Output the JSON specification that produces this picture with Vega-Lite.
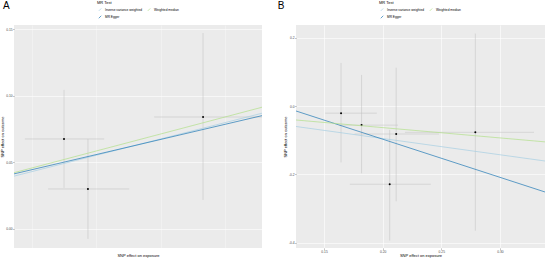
{
  "$schema": "https://vega.github.io/schema/vega-lite/v6.json",
  "background": "white",
  "padding": {"left": 0, "top": 1, "right": 0, "bottom": 0},
  "spacing": 15,
  "datasets": {
    "snpA": [
      {"bx": 1.0, "by": 0.0675, "x_lo": 0.848, "x_hi": 1.156, "y_lo": 0.0308, "y_hi": 0.1043},
      {"bx": 1.093, "by": 0.030, "x_lo": 0.938, "x_hi": 1.253, "y_lo": -0.0075, "y_hi": 0.0675},
      {"bx": 1.540, "by": 0.084, "x_lo": 1.350, "x_hi": 1.80, "y_lo": 0.0218, "y_hi": 0.147}
    ],
    "linesA": [
      {"method": "Inverse variance weighted", "x": 0.8057, "y": 0.0396},
      {"method": "Inverse variance weighted", "x": 1.769, "y": 0.0868},
      {"method": "MR Egger", "x": 0.8057, "y": 0.0413},
      {"method": "MR Egger", "x": 1.769, "y": 0.0850},
      {"method": "Weighted median", "x": 0.8057, "y": 0.0422},
      {"method": "Weighted median", "x": 1.769, "y": 0.0913}
    ],
    "snpB": [
      {"bx": 0.1645, "by": -0.021, "x_lo": 0.151, "x_hi": 0.195, "y_lo": -0.165, "y_hi": 0.126},
      {"bx": 0.182, "by": -0.056, "x_lo": 0.163, "x_hi": 0.213, "y_lo": -0.197, "y_hi": 0.091},
      {"bx": 0.2115, "by": -0.082, "x_lo": 0.176, "x_hi": 0.248, "y_lo": -0.279, "y_hi": 0.112},
      {"bx": 0.206, "by": -0.229, "x_lo": 0.172, "x_hi": 0.241, "y_lo": -0.394, "y_hi": -0.07},
      {"bx": 0.279, "by": -0.077, "x_lo": 0.219, "x_hi": 0.329, "y_lo": -0.365, "y_hi": 0.212}
    ],
    "linesB": [
      {"method": "Inverse variance weighted", "x": 0.1261, "y": -0.060},
      {"method": "Inverse variance weighted", "x": 0.3384, "y": -0.161},
      {"method": "MR Egger", "x": 0.1261, "y": -0.0146},
      {"method": "MR Egger", "x": 0.3384, "y": -0.2517},
      {"method": "Weighted median", "x": 0.1261, "y": -0.041},
      {"method": "Weighted median", "x": 0.3384, "y": -0.105}
    ]
  },
  "resolve": {
    "scale": {"x": "independent", "y": "independent", "color": "independent"},
    "legend": {"color": "independent"},
    "axis": {"x": "independent", "y": "independent"}
  },
  "hconcat": [
    {
      "width": 248,
      "height": 223,
      "title": {"text": "A", "anchor": "start", "frame": "bounds", "dx": 2, "dy": 14},
      "layer": [
        {
          "data": {"name": "snpA"},
          "mark": {"type": "rule", "clip": true, "color": "#BEBEBE", "strokeWidth": 0.5},
          "encoding": {
            "x": {"field": "x_lo", "type": "quantitative",
              "scale": {"domain": [0.8057, 1.769], "nice": false, "zero": false},
              "axis": {
                "title": "SNP effect on exposure",
                "values": [0.875, 1.0, 1.125, 1.25, 1.375, 1.5, 1.625, 1.75],
                "labelExpr": "(datum.value*4)%1 == 0 ? format(datum.value, '.2f') : ''",
                "tickOpacity": {"condition": {"test": "(datum.value*4)%1 != 0", "value": 0}, "value": 1},
                "gridWidth": {"condition": {"test": "(datum.value*4)%1 != 0", "value": 0.3}, "value": 0.6}
              }},
            "x2": {"field": "x_hi"},
            "y": {"field": "by", "type": "quantitative",
              "scale": {"domain": [-0.0143, 0.153], "nice": false, "zero": false},
              "axis": {
                "title": "SNP effect on outcome",
                "values": [0, 0.025, 0.05, 0.075, 0.1, 0.125, 0.15],
                "labelExpr": "abs(datum.value*20 - round(datum.value*20)) < 0.001 ? format(datum.value, '.2f') : ''",
                "tickOpacity": {"condition": {"test": "abs(datum.value*20 - round(datum.value*20)) > 0.001", "value": 0}, "value": 1},
                "gridWidth": {"condition": {"test": "abs(datum.value*20 - round(datum.value*20)) > 0.001", "value": 0.3}, "value": 0.6}
              }}
          }
        },
        {
          "data": {"name": "snpA"},
          "mark": {"type": "rule", "clip": true, "color": "#BEBEBE", "strokeWidth": 0.5},
          "encoding": {
            "x": {"field": "bx", "type": "quantitative"},
            "y": {"field": "y_lo", "type": "quantitative"},
            "y2": {"field": "y_hi"}
          }
        },
        {
          "data": {"name": "snpA"},
          "mark": {"type": "point", "filled": true, "color": "black", "size": 4, "opacity": 1},
          "encoding": {
            "x": {"field": "bx", "type": "quantitative"},
            "y": {"field": "by", "type": "quantitative"}
          }
        },
        {
          "data": {"name": "linesA"},
          "mark": {"type": "line", "clip": true, "strokeWidth": 0.7},
          "encoding": {
            "x": {"field": "x", "type": "quantitative"},
            "y": {"field": "y", "type": "quantitative"},
            "color": {"field": "method", "type": "nominal",
              "scale": {"domain": ["Inverse variance weighted", "MR Egger", "Weighted median"],
                        "range": ["#a6cee3", "#1f78b4", "#b2df8a"]},
              "legend": {"title": "MR Test", "orient": "none", "legendX": 83, "legendY": -24, "columns": 2,
                         "values": ["Inverse variance weighted", "MR Egger", "Weighted median"]}}
          }
        }
      ]
    },
    {
      "width": 249,
      "height": 223,
      "title": {"text": "B", "anchor": "start", "frame": "bounds", "dx": -6, "dy": 14},
      "layer": [
        {
          "data": {"name": "snpB"},
          "mark": {"type": "rule", "clip": true, "color": "#BEBEBE", "strokeWidth": 0.5},
          "encoding": {
            "x": {"field": "x_lo", "type": "quantitative",
              "scale": {"domain": [0.1261, 0.3384], "nice": false, "zero": false},
              "axis": {
                "title": "SNP effect on exposure",
                "values": [0.15, 0.175, 0.2, 0.225, 0.25, 0.275, 0.3, 0.325],
                "labelExpr": "abs(datum.value*20 - round(datum.value*20)) < 0.001 ? format(datum.value, '.2f') : ''",
                "tickOpacity": {"condition": {"test": "abs(datum.value*20 - round(datum.value*20)) > 0.001", "value": 0}, "value": 1},
                "gridWidth": {"condition": {"test": "abs(datum.value*20 - round(datum.value*20)) > 0.001", "value": 0.3}, "value": 0.6}
              }},
            "x2": {"field": "x_hi"},
            "y": {"field": "by", "type": "quantitative",
              "scale": {"domain": [-0.4156, 0.237], "nice": false, "zero": false},
              "axis": {
                "title": "SNP effect on outcome",
                "values": [-0.4, -0.3, -0.2, -0.1, 0, 0.1, 0.2],
                "labelExpr": "abs(datum.value*5 - round(datum.value*5)) < 0.001 ? replace(format(datum.value, '.1f'), '\u2212', '-') : ''",
                "tickOpacity": {"condition": {"test": "abs(datum.value*5 - round(datum.value*5)) > 0.001", "value": 0}, "value": 1},
                "gridWidth": {"condition": {"test": "abs(datum.value*5 - round(datum.value*5)) > 0.001", "value": 0.3}, "value": 0.6}
              }}
          }
        },
        {
          "data": {"name": "snpB"},
          "mark": {"type": "rule", "clip": true, "color": "#BEBEBE", "strokeWidth": 0.5},
          "encoding": {
            "x": {"field": "bx", "type": "quantitative"},
            "y": {"field": "y_lo", "type": "quantitative"},
            "y2": {"field": "y_hi"}
          }
        },
        {
          "data": {"name": "snpB"},
          "mark": {"type": "point", "filled": true, "color": "black", "size": 4, "opacity": 1},
          "encoding": {
            "x": {"field": "bx", "type": "quantitative"},
            "y": {"field": "by", "type": "quantitative"}
          }
        },
        {
          "data": {"name": "linesB"},
          "mark": {"type": "line", "clip": true, "strokeWidth": 0.7},
          "encoding": {
            "x": {"field": "x", "type": "quantitative"},
            "y": {"field": "y", "type": "quantitative"},
            "color": {"field": "method", "type": "nominal",
              "scale": {"domain": ["Inverse variance weighted", "MR Egger", "Weighted median"],
                        "range": ["#a6cee3", "#1f78b4", "#b2df8a"]},
              "legend": {"title": "MR Test", "orient": "none", "legendX": 83, "legendY": -24, "columns": 2,
                         "values": ["Inverse variance weighted", "MR Egger", "Weighted median"]}}
          }
        }
      ]
    }
  ],
  "config": {
    "font": "Liberation Sans",
    "view": {"fill": "#EBEBEB", "stroke": null},
    "title": {"fontSize": 10, "fontWeight": "normal", "color": "black", "offset": 0},
    "axis": {
      "domain": false,
      "grid": true,
      "gridColor": "white",
      "labelFontSize": 3.3,
      "labelColor": "#4D4D4D",
      "labelPadding": 0.6,
      "tickColor": "#333333",
      "tickSize": 1.2,
      "tickWidth": 0.4,
      "titleFontSize": 4,
      "titleFontWeight": "normal",
      "titleColor": "black",
      "titlePadding": 0.8
    },
    "legend": {
      "titleFontSize": 4,
      "titleFontWeight": "normal",
      "titleColor": "black",
      "titlePadding": 1.5,
      "labelFontSize": 3.2,
      "labelColor": "black",
      "labelOffset": 2,
      "symbolType": "M -0.5 0.5 L 0.5 -0.5",
      "symbolSize": 25,
      "symbolStrokeWidth": 0.7,
      "rowPadding": 1.5,
      "columnPadding": 3
    }
  }
}
